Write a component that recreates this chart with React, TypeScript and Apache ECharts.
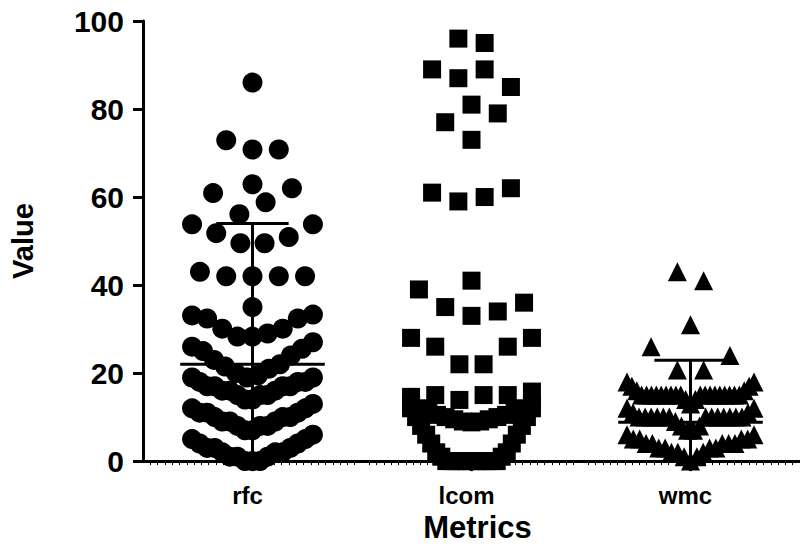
import React, { useEffect, useRef } from "react";
import * as echarts from "echarts";

// Metric names along the x axis
const categories = ["rfc", "lcom", "wmc"];

// y axis range and step
const yMin = 0;
const yMax = 100;
const yStep = 20;

// Values per metric, grouped into the horizontal bands of the dot swarm
const rfcRows: number[][] = [
  [0, 0, 0, 1, 1, 1, 2, 2, 2, 3, 3, 3, 4, 4, 5, 5, 6],
  [7, 7, 8, 8, 8, 9, 9, 9, 10, 10, 10, 11, 11, 11, 12, 12, 13],
  [14, 14, 15, 15, 15, 16, 16, 16, 17, 17, 17, 17, 18, 18, 18, 19, 19],
  [19, 19.5, 20, 21, 21.5, 22, 23, 24, 25, 25.5, 26, 27],
  [28.3, 28.3, 29, 30.1, 30.1, 32.4, 32.4, 33.1, 33.3],
  [35],
  [42, 42, 42, 43, 42],
  [49.5, 49.5, 51.8, 50.9, 53.8, 53.8],
  [56.1, 58.8, 60.9, 62],
  [62.9],
  [70.8, 72.9, 70.8],
  [86],
];

const lcomRows: number[][] = [
  [0, 0, 0, 0, 0, 0, 0, 0, 0, 0, 0, 1, 1, 2, 2, 4, 4, 6, 6, 8, 8, 10, 10, 12, 12],
  [8.8, 9, 9, 9.5, 9.5, 10, 10, 10.5, 10.5, 11, 11, 12, 12, 13, 13],
  [13.9, 15, 15, 15, 14.6, 15.8],
  [22, 22, 26, 26, 28, 28],
  [33, 35, 34, 39, 36],
  [41],
  [59, 60, 61, 62],
  [73],
  [81, 77, 79],
  [87, 89, 89, 85],
  [96, 95],
];

const wmcRows: number[][] = [
  [0, 1, 1, 2, 2, 2, 3, 3, 3, 3, 4, 4, 4, 4, 4, 5, 5, 5, 5, 6, 6],
  [7, 7, 8, 8, 9, 10, 10, 10, 10, 10, 10, 10, 10, 10, 10, 10, 10, 10, 11, 11, 12, 12],
  [13, 14, 14, 15, 15, 15, 15, 15, 15, 15, 15, 15, 15, 15, 15, 15, 15, 15, 15, 15, 15, 16, 16, 17, 17, 18, 18],
  [20.7, 20.7, 26, 24],
  [31],
  [43, 41],
];

// Centre line and error-bar ends per metric (null: not drawn)
const centerValues: (number | null)[] = [22, null, 8.8];
const upperValues: (number | null)[] = [54, null, 22.9];
const lowerValues: (number | null)[] = [-2, null, -2];

const FONT = "'Liberation Sans', Arial, Helvetica, sans-serif";

// Spread each band's values side by side around the category centre:
// first value in the middle, then alternating left / right outwards.
function swarm(rows: number[][], idx: number, span: number, maxStep: number): number[][] {
  const pts: number[][] = [];
  rows.forEach((row) => {
    const n = row.length;
    const step = n > 1 ? Math.min(maxStep, span / (n - 1)) : 0;
    row.forEach((v, i) => {
      let slot: number;
      if (n % 2 === 1) {
        const k = Math.ceil(i / 2);
        slot = i === 0 ? 0 : i % 2 === 1 ? -k : k;
      } else {
        const k = Math.floor(i / 2) + 0.5;
        slot = i % 2 === 0 ? -k : k;
      }
      pts.push([idx + 0.5 + slot * step, v]);
    });
  });
  return pts;
}

export default function App() {
  const ref = useRef<HTMLDivElement>(null);

  useEffect(() => {
    if (!ref.current) return;
    const chart = echarts.init(ref.current, undefined, { renderer: "svg" });

    const errData = categories
      .map((_, i) => [i, centerValues[i], upperValues[i], lowerValues[i]])
      .filter((d) => d[1] !== null);

    const dot = { color: "#000", opacity: 1 };

    const option: echarts.EChartsOption = {
      animation: false,
      backgroundColor: "#ffffff",
      grid: { left: 143, top: 21, width: 663, height: 442, containLabel: false },
      xAxis: [
        {
          type: "category",
          data: categories,
          boundaryGap: true,
          name: "Metrics",
          nameLocation: "middle",
          nameGap: 50,
          nameTextStyle: {
            fontFamily: FONT,
            fontWeight: "bold",
            fontSize: 31,
            color: "#000",
            padding: [0, 0, 0, 12],
          },
          axisLine: { show: true, lineStyle: { color: "#000", width: 3 } },
          axisTick: { show: true, alignWithLabel: true, length: 10, lineStyle: { color: "#000", width: 3 } },
          axisLabel: {
            fontFamily: FONT,
            fontWeight: "bold",
            fontSize: 24,
            color: "#000",
            margin: 22,
            padding: [0, 10, 0, 0],
          },
          splitLine: { show: false },
        },
        {
          type: "value",
          min: 0,
          max: 3,
          interval: 1,
          position: "bottom",
          axisLine: { show: false },
          axisTick: { show: false },
          axisLabel: { show: false },
          splitLine: { show: false },
          minorTick: { show: true, splitNumber: 30, length: 4, lineStyle: { color: "#000", width: 1 } },
        },
      ],
      yAxis: {
        type: "value",
        min: yMin,
        max: yMax,
        interval: yStep,
        name: "Value",
        nameLocation: "middle",
        nameGap: 106,
        nameTextStyle: { fontFamily: FONT, fontWeight: "bold", fontSize: 29, color: "#000" },
        axisLine: { show: true, lineStyle: { color: "#000", width: 3 } },
        axisTick: { show: true, length: 10, lineStyle: { color: "#000", width: 3 } },
        axisLabel: { fontFamily: FONT, fontWeight: "bold", fontSize: 30, color: "#000", margin: 19 },
        splitLine: { show: false },
      },
      series: [
        {
          type: "scatter",
          name: "rfc",
          xAxisIndex: 1,
          symbol: "circle",
          symbolSize: 20,
          itemStyle: dot,
          clip: false,
          data: swarm(rfcRows, 0, 0.552, 0.12),
          z: 2,
        },
        {
          type: "scatter",
          name: "lcom",
          xAxisIndex: 1,
          symbol: "rect",
          symbolSize: 18,
          itemStyle: dot,
          clip: false,
          data: swarm(lcomRows, 1, 0.552, 0.12),
          z: 2,
        },
        {
          type: "scatter",
          name: "wmc",
          xAxisIndex: 1,
          symbol: "triangle",
          symbolSize: 19,
          itemStyle: dot,
          clip: false,
          data: swarm(wmcRows, 2, 0.58, 0.12),
          z: 2,
        },
        {
          type: "custom",
          name: "error bars",
          xAxisIndex: 1,
          clip: false,
          z: 3,
          data: errData as number[][],
          renderItem: (params: any, api: any) => {
            const x = (api.value(0) as number) + 0.5;
            const c = api.value(1) as number;
            const u = api.value(2) as number;
            const l = api.value(3) as number;
            const st = { stroke: "#000", lineWidth: 3 };
            const m0 = api.coord([x - 0.33, c]);
            const m1 = api.coord([x + 0.33, c]);
            const cap0 = api.coord([x - 0.165, u]);
            const cap1 = api.coord([x + 0.165, u]);
            const top = api.coord([x, u]);
            const bot = api.coord([x, l]);
            return {
              type: "group",
              children: [
                { type: "line", shape: { x1: m0[0], y1: m0[1], x2: m1[0], y2: m1[1] }, style: st },
                { type: "line", shape: { x1: top[0], y1: top[1], x2: bot[0], y2: bot[1] }, style: st },
                { type: "line", shape: { x1: cap0[0], y1: cap0[1], x2: cap1[0], y2: cap1[1] }, style: st },
              ],
            };
          },
        },
      ],
    };

    chart.setOption(option);
    return () => chart.dispose();
  }, []);

  return (
    <div
      ref={ref}
      style={{ position: "fixed", left: 0, top: 0, width: 800, height: 548, background: "#fff" }}
    />
  );
}
